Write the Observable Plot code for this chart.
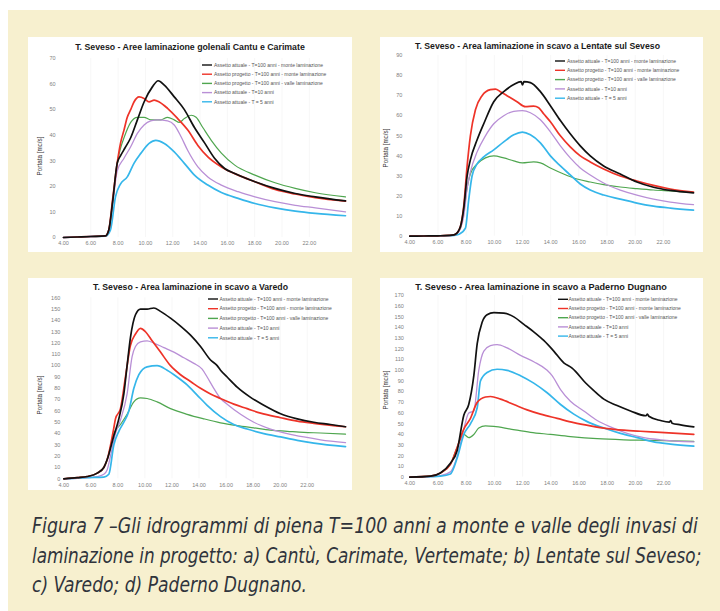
<!DOCTYPE html>
<html><head><meta charset="utf-8">
<script src="https://cdn.jsdelivr.net/npm/d3@7"></script>
<script src="https://cdn.jsdelivr.net/npm/@observablehq/plot@0.6"></script>
<style>
html,body{margin:0;padding:0;background:#fff;}
body{width:720px;height:611px;overflow:hidden;position:relative;font-family:"Liberation Sans",Arial,sans-serif;}
#bg{position:absolute;left:8px;top:10px;width:712px;height:601px;background:#f7f0cf;}
.panel{position:absolute;background:#fff;}
.panel svg{position:absolute;left:0;top:0;}
#caption{position:absolute;left:0;top:500px;}
</style></head>
<body>
<div id="bg"></div>
<div id="pa" class="panel" style="left:28px;top:37px;width:324px;height:215px"></div>
<div id="pb" class="panel" style="left:380px;top:37px;width:323px;height:215px"></div>
<div id="pc" class="panel" style="left:28px;top:278px;width:324px;height:212px"></div>
<div id="pd" class="panel" style="left:380px;top:278px;width:323px;height:212px"></div>
<svg id="caption" width="720" height="111"></svg>
<script>
// ---------- data (hours, m3/s) ----------
const seriesNames = [
  "Assetto attuale - T=100 anni - monte laminazione",
  "Assetto progetto - T=100 anni - monte laminazione",
  "Assetto progetto - T=100 anni - valle laminazione",
  "Assetto attuale - T=10 anni",
  "Assetto attuale - T = 5 anni"
];
const seriesColors = ["#111111", "#ee3328", "#4fa64f", "#b98fd6", "#35b6ea"];
const xTicks = [4, 6, 8, 10, 12, 14, 16, 18, 20, 22];

const titles = [
  "T. Seveso - Aree laminazione golenali Cantu e Carimate",
  "T. Seveso - Area laminazione in scavo a Lentate sul Seveso",
  "T. Seveso - Area laminazione in scavo a Varedo",
  "T. Seveso - Area laminazione in scavo a Paderno Dugnano"
];
const yLabel = "Portata [mc/s]";
const yMaxes = [70, 90, 160, 170];

// Panel a
const a_black = [[4,0],[5,0.2],[6,0.4],[7.07,0.6],[7.32,3],[7.6,14],[7.93,29],[8.18,32],[8.5,35],[8.92,39],[9.41,46],[9.9,53],[10.52,59],[10.93,61.3],[11.38,59.6],[12.11,55],[12.85,50],[13.59,43],[14.33,37],[15.06,31],[15.8,27],[16.54,25],[18.02,21.8],[19.49,19.2],[20.97,17.2],[22.44,15.9],[24.65,14.3]];
const a_red = [[4,0],[5,0.2],[6,0.4],[7.07,0.6],[7.32,3],[7.6,15],[7.93,29],[8.18,37],[8.43,42],[8.67,47],[8.92,50],[9.16,53],[9.53,55],[9.9,54.4],[10.27,53],[10.64,53.7],[11.01,53],[11.62,50.5],[12.36,46.5],[13.1,42],[13.84,36],[14.57,31.5],[15.56,27.6],[16.79,24.4],[18.02,21.8],[19.49,18.8],[20.97,17],[22.44,15.6],[24.65,14.2]];
const a_green = [[4,0],[5,0.2],[6,0.4],[7.07,0.6],[7.32,3],[7.6,14],[7.93,29],[8.18,35],[8.43,39],[8.92,45],[9.41,47],[9.9,47],[10.39,46],[11.13,46],[11.62,47],[12.11,46],[12.48,45],[12.85,46.5],[13.34,47.8],[13.71,47],[14.2,43],[14.82,38],[15.56,33],[16.54,28.3],[18.02,24.4],[19.49,21.4],[20.97,19.2],[22.44,17.5],[24.65,15.9]];
const a_violet = [[4,0],[5,0.2],[6,0.4],[7.07,0.6],[7.32,3],[7.6,13],[7.93,26],[8.43,31],[8.92,35.5],[9.41,40.7],[9.9,44],[10.39,45.6],[10.88,46],[11.62,45.6],[12.11,44],[12.61,39.4],[13.1,34],[13.84,27.6],[14.57,23.7],[15.56,20.5],[16.79,17.9],[18.02,15.9],[19.49,14],[20.97,12.6],[22.44,11.6],[24.65,10]];
const a_cyan = [[4,0],[5,0.2],[6,0.4],[7.07,0.5],[7.44,3],[7.81,16],[8.18,21],[8.67,23.7],[9.16,29],[9.66,32.9],[10.27,36.8],[10.76,38],[11.38,36.8],[12.11,33.5],[12.85,29],[13.59,24.4],[14.57,20.5],[15.56,17.6],[16.79,15.3],[18.02,13.3],[19.49,11.6],[20.97,10.3],[22.44,9.4],[24.65,8.5]];

// Panel b
const b_black = [[4,0],[5,0.1],[6,0.2],[7,0.5],[7.24,1],[7.6,5],[7.83,14],[8.07,30],[8.3,38],[8.78,48],[9.25,56],[9.96,67],[10.67,72],[11.38,75.5],[11.9,77],[12.0,75.3],[12.1,77],[12.56,76.5],[13.27,72],[13.98,65],[14.69,57.6],[15.39,51],[16.1,45],[16.81,40],[17.76,35],[18.94,31],[20.12,27],[21.3,24.4],[22.49,22.8],[24.14,21.6]];
const b_red = [[4,0],[5,0.1],[6,0.2],[7,0.5],[7.24,1],[7.6,5],[7.83,15],[8.07,35],[8.3,50],[8.66,63],[9.13,70],[9.72,73],[10.08,73.3],[10.43,72],[10.9,70],[11.61,67],[12.2,64.5],[12.79,64.8],[13.15,64],[13.5,61],[13.98,57],[14.69,50],[15.39,44.5],[16.1,40],[16.81,37],[17.76,33.5],[18.94,30],[20.12,27.5],[21.3,25.3],[22.49,23.5],[24.14,22]];
const b_green = [[4,0],[5,0.1],[6,0.2],[7,0.5],[7.24,1],[7.6,4],[7.83,12],[8.07,24],[8.3,31],[8.78,36],[9.37,39],[9.96,40],[10.67,39],[11.38,37.5],[11.99,36.5],[12.79,37],[13.27,36.5],[13.98,34],[14.92,31],[15.87,28.5],[16.81,27],[17.76,25.7],[18.94,24.5],[20.12,23.7],[21.3,23],[22.49,22.5],[24.14,21.8]];
const b_violet = [[4,0],[5,0.1],[6,0.2],[7,0.4],[7.24,0.8],[7.6,4],[7.83,10],[8.07,24],[8.3,32],[8.78,42],[9.37,50],[9.96,56],[10.67,60],[11.38,62.2],[11.99,62.5],[12.56,61.5],[13.27,58],[13.98,52],[14.69,45],[15.39,39],[16.1,34],[16.81,30.5],[17.76,26.5],[18.94,23],[20.12,20.5],[21.3,18.5],[22.49,17],[24.14,15.7]];
const b_cyan = [[4,0],[5,0.1],[6,0.2],[7,0.3],[7.5,1],[7.95,4],[8.18,18],[8.42,30],[8.78,36],[9.25,39.5],[9.96,43],[10.67,47],[11.38,50.5],[11.99,51.8],[12.56,50.5],[13.27,46.5],[13.98,40],[14.69,35],[15.39,30.5],[16.1,26],[16.81,23],[17.76,20.5],[18.94,18.5],[20.12,16.5],[21.3,15],[22.49,14],[24.14,13]];

// Panel c
const c_black = [[4,0],[5,1],[5.73,2],[6.47,5],[6.96,10],[7.21,17],[7.7,38],[8.07,53],[8.44,75],[8.68,100],[8.93,125],[9.3,145],[9.67,150],[10.16,150],[10.66,151],[11.15,148],[11.89,142],[12.63,135],[13.37,127],[14.11,117],[14.85,105],[15.34,100],[15.59,96],[16.08,90],[16.82,81],[17.81,72],[18.79,65],[20.03,57.5],[21.26,53],[22.49,50],[23.72,48],[24.83,46]];
const c_red = [[4,0],[5,1],[5.73,2],[6.47,5],[6.96,10],[7.21,17],[7.7,45],[7.82,53],[8.19,62],[8.56,90],[8.93,118],[9.3,128],[9.67,133],[10.04,130],[10.53,122],[11.15,112],[11.89,100],[12.63,92],[13.37,86],[14.11,80],[14.85,75],[15.59,71],[16.57,66],[17.56,62],[18.55,58],[20.03,54],[21.26,51],[22.49,49],[24.83,46]];
const c_green = [[4,0],[5,1],[5.73,2],[6.47,5],[6.96,10],[7.21,17],[7.7,40],[8.19,48],[8.68,57],[9.18,68],[9.67,71.5],[10.16,71],[10.9,68],[11.89,62],[13.12,57],[14.36,53],[15.59,49.5],[16.82,47],[18.05,45],[19.29,43],[20.52,42],[21.75,41],[22.98,40.5],[24.83,39.5]];
const c_violet = [[4,0],[5,0.5],[5.73,1],[6.47,2],[6.96,4],[7.21,8],[7.45,20],[7.82,40],[8.19,52],[8.68,75],[9.05,108],[9.3,117],[9.67,121],[10.16,122],[10.66,120],[11.4,116],[12.14,112],[12.88,107],[13.62,102],[14.23,97],[14.6,90],[15.09,80],[15.59,71],[16.08,66],[17.07,57],[18.05,50],[19.29,44],[20.52,40],[21.75,37],[22.98,34.5],[24.83,32]];
const c_cyan = [[4,0],[5,0.5],[5.73,1],[6.96,1.5],[7.33,4],[7.7,30],[8.07,42],[8.44,50],[8.81,60],[9.18,80],[9.55,92],[10.16,99],[10.9,100],[11.64,96],[12.38,90],[13.12,83],[13.86,74],[14.6,65],[15.59,55],[16.57,48],[17.56,44],[18.79,40],[20.03,37],[21.26,34],[22.49,31.5],[24.83,28.5]];

// Panel d
const d_black = [[4,0],[5.47,1],[6.17,4],[6.88,13],[7.36,25],[7.83,58],[8.18,68],[8.54,95],[8.78,125],[9.13,145],[9.48,152],[9.96,154],[10.67,153.5],[11.38,150],[12.09,143],[12.79,136],[13.5,128],[14.21,118],[14.92,107],[15.51,102],[15.75,99],[16.34,90],[17.05,81],[17.76,73],[18.7,67],[19.65,62],[20.75,57.5],[20.85,59],[20.95,57],[21.78,53],[22.4,51.5],[22.5,53],[22.6,50.5],[23.2,49],[24.14,47]];
const d_red = [[4,0],[5.47,1],[6.17,4],[6.88,12],[7.36,28],[7.83,45],[8.3,55],[8.78,70],[9.37,75],[9.72,75.5],[10.43,73],[11.38,68],[12.32,63],[13.27,59],[14.45,55],[15.63,51],[16.81,48],[18.0,45.5],[19.18,44],[20.36,43],[21.78,42],[24.14,40]];
const d_green = [[4,0],[5.47,1],[6.17,4],[6.88,12],[7.36,28],[7.83,40],[8.18,37],[8.54,40],[8.89,46],[9.37,48],[9.96,47.5],[11.14,45],[12.56,42],[13.98,40],[15.39,38],[17.29,36],[19.18,35],[21.07,34.5],[22.49,34],[24.14,33.5]];
const d_violet = [[4,0],[5.47,0.5],[6.17,1.5],[6.88,5],[7.48,25],[7.83,45],[8.18,60],[8.54,62],[8.89,100],[9.25,118],[9.72,123],[10.19,124],[10.9,121],[11.85,114],[12.79,108],[13.74,100],[14.09,95],[14.69,82],[15.39,71],[16.34,62],[17.29,53],[18.23,47],[19.41,41],[20.6,37],[21.78,35],[24.14,33]];
const d_cyan = [[4,0],[5.47,0.5],[6.17,1],[6.88,3],[7.36,18],[7.83,40],[8.3,50],[8.78,65],[9.01,90],[9.48,98],[10.19,101],[10.9,100],[11.85,95],[12.79,88],[13.74,79],[14.69,68],[15.63,59],[16.58,52],[17.76,46],[18.94,41],[20.12,37],[21.3,33],[22.49,31],[24.14,29]];

const captionLines = [
  "Figura 7 \u2013Gli idrogrammi di piena T=100 anni a monte e valle degli invasi di",
  "laminazione in progetto: a) Cantù, Carimate, Vertemate; b) Lentate sul Seveso;",
  "c) Varedo; d) Paderno Dugnano."
];

// ---------- layout ----------
const panels = [
  {id:"pa", w:324, h:215, ml:35, mr:7, mt:21, mb:15, pad:8, xEnd:24.65, data:[a_black,a_red,a_green,a_violet,a_cyan],
   title:{x:162, y:13, len:230}, ylab:{x:12, y:119}, leg:{sx:174, tx:186, y:28, dy:9.2}},
  {id:"pb", w:323, h:215, ml:29.3, mr:10, mt:18, mb:16.3, pad:7.5, xEnd:24.14, data:[b_black,b_red,b_green,b_violet,b_cyan],
   title:{x:157.5, y:11.5, len:245}, ylab:{x:6, y:111}, leg:{sx:175, tx:187, y:24, dy:9.3}},
  {id:"pc", w:324, h:212, ml:35.3, mr:7, mt:19.3, mb:11.7, pad:3.5, xEnd:24.83, data:[c_black,c_red,c_green,c_violet,c_cyan],
   title:{x:162.5, y:12, len:195}, ylab:{x:12, y:117}, leg:{sx:180, tx:191.5, y:21, dy:9.7}},
  {id:"pd", w:323, h:212, ml:29.3, mr:9.7, mt:17, mb:13.3, pad:6, xEnd:24.14, data:[d_black,d_red,d_green,d_violet,d_cyan],
   title:{x:161, y:12, len:252}, ylab:{x:6, y:112}, leg:{sx:178, tx:188.5, y:21.3, dy:9.2}}
];
const strokeWidths = [1.7, 1.7, 1.2, 1.3, 1.7];
const drawOrder = [2, 3, 4, 1, 0];

// scale a text horizontally so its rendered width equals target
function fitWidth(sel, x, y, target, anchor) {
  const natural = sel.node().getComputedTextLength();
  const s = natural > 0 ? target / natural : 1;
  sel.attr("x", 0).attr("y", 0).attr("text-anchor", anchor)
     .attr("transform", `translate(${x},${y}) scale(${s},1)`);
}

panels.forEach((p, i) => {
  const yMax = yMaxes[i];
  const yTicks = d3.range(0, yMax + 1, 10);
  const chart = Plot.plot({
    width: p.w, height: p.h,
    marginLeft: p.ml, marginRight: p.mr, marginTop: p.mt, marginBottom: p.mb,
    style: {background: "transparent", fontFamily: "'Liberation Sans', Arial, sans-serif", fontSize: "5.5px", color: "#808080", overflow: "visible"},
    x: {domain: [4, p.xEnd]},
    y: {domain: [0, yMax]},
    marks: [
      Plot.gridX(xTicks.slice(1), {stroke: "#000", strokeOpacity: 0.035}),
      Plot.axisY(yTicks, {tickSize: 0, tickPadding: p.pad, label: null}),
      Plot.axisX(xTicks, {tickSize: 0, tickPadding: 4, tickFormat: h => `${h}.00`, label: null}),
      ...drawOrder.map(k => Plot.line(p.data[k], {x: d => d[0], y: d => d[1], stroke: seriesColors[k], strokeWidth: strokeWidths[k], curve: "monotone-x"}))
    ]
  });
  const host = document.getElementById(p.id);
  host.appendChild(chart);

  // overlay: title, y label, legend
  const ov = d3.select(host).append("svg").attr("width", p.w).attr("height", p.h)
    .style("font-family", "'Liberation Sans', Arial, sans-serif");
  const t = ov.append("text")
    .attr("font-size", 9).attr("font-weight", "bold").attr("fill", "#1a1a1a")
    .text(titles[i]);
  fitWidth(t, p.title.x, p.title.y, p.title.len, "middle");
  ov.append("text").attr("transform", `translate(${p.ylab.x},${p.ylab.y}) rotate(-90)`)
    .attr("text-anchor", "middle").attr("dy", "0.35em").attr("font-size", 6.3).attr("fill", "#333")
    .text(yLabel);
  const lg = ov.append("g");
  seriesNames.forEach((name, k) => {
    const yy = p.leg.y + k * p.leg.dy;
    lg.append("line").attr("x1", p.leg.sx).attr("x2", p.leg.sx + 10).attr("y1", yy).attr("y2", yy)
      .attr("stroke", seriesColors[k]).attr("stroke-width", 1.4);
    lg.append("text").attr("x", p.leg.tx).attr("y", yy).attr("dy", "0.35em")
      .attr("font-size", 5).attr("fill", "#555").text(name);
  });
});

// caption
const cap = d3.select("#caption");
const capLayout = [{y: 33, len: 666}, {y: 62.5, len: 670}, {y: 92, len: 275}];
captionLines.forEach((txt, k) => {
  const el = cap.append("text")
    .attr("font-family", "'DejaVu Sans Condensed', 'Liberation Sans Narrow', 'Noto Sans', sans-serif")
    .attr("font-style", "italic").attr("font-size", 21).attr("fill", "#30343c")
    .text(txt);
  fitWidth(el, 32, capLayout[k].y, capLayout[k].len, "start");
});
</script>
</body></html>
